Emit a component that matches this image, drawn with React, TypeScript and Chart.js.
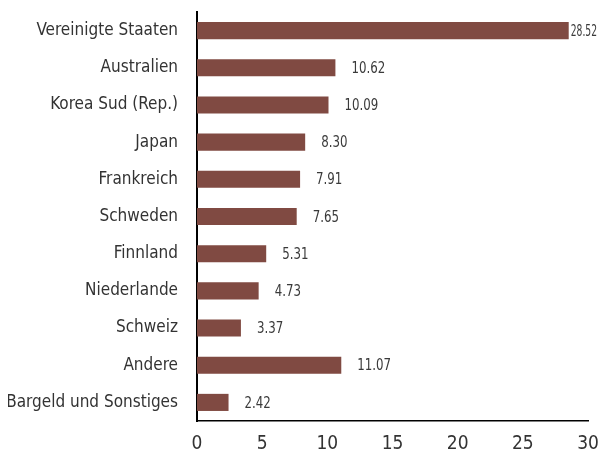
import React, { useEffect, useRef } from "react";
import { Chart, registerables } from "chart.js";

Chart.register(...registerables);

const categories = [
  "Vereinigte Staaten",
  "Australien",
  "Korea Sud (Rep.)",
  "Japan",
  "Frankreich",
  "Schweden",
  "Finnland",
  "Niederlande",
  "Schweiz",
  "Andere",
  "Bargeld und Sonstiges",
];
const values = [28.52, 10.62, 10.09, 8.3, 7.91, 7.65, 5.31, 4.73, 3.37, 11.07, 2.42];
const xTicks = [0, 5, 10, 15, 20, 25, 30];

const FONT = "'DejaVu Sans Condensed', 'Liberation Sans Narrow', sans-serif";

const labelPlugin = {
  id: "barLabels",
  afterDatasetsDraw(chart: any) {
    const ctx = chart.ctx;
    const meta = chart.getDatasetMeta(0);
    ctx.save();
    ctx.font = `16px ${FONT}`;
    ctx.fillStyle = "#3a3a3a";
    ctx.textBaseline = "middle";
    ctx.textAlign = "left";
    const limit = chart.width - 1;
    meta.data.forEach((bar: any, i: number) => {
      const txt = values[i].toFixed(2);
      const w = ctx.measureText(txt).width;
      let sx = 0.82;
      let x = bar.x + 16;
      if (x + w * sx > limit) {
        x = Math.max(bar.x + 2, limit - w * sx);
        if (x + w * sx > limit) sx = (limit - x) / w;
      }
      ctx.save();
      ctx.translate(x, bar.y + 1);
      ctx.scale(sx, 1);
      ctx.fillText(txt, 0, 0);
      ctx.restore();
    });
    ctx.restore();
  },
};

export default function App() {
  const ref = useRef<HTMLCanvasElement>(null);
  useEffect(() => {
    const chart = new Chart(ref.current!, {
      type: "bar",
      data: {
        labels: categories,
        datasets: [
          {
            data: values,
            backgroundColor: "#804a42",
            barPercentage: 0.92,
            categoryPercentage: 0.5,
          },
        ],
      },
      options: {
        indexAxis: "y",
        animation: false,
        responsive: false,
        layout: { padding: { left: 0, right: 10, top: 4, bottom: 0 } },
        plugins: { legend: { display: false }, tooltip: { enabled: false } },
        scales: {
          x: {
            min: 0,
            max: 30,
            afterBuildTicks: (s: any) => {
              s.ticks = xTicks.map((v) => ({ value: v }));
            },
            afterFit: (s: any) => {
              s.height = 28;
              s.paddingLeft = 0;
              s.paddingRight = 0;
            },
            grid: { display: false, drawTicks: false },
            border: { display: true, color: "#000", width: 1.5 },
            ticks: {
              padding: 12,
              color: "#333",
              font: { family: FONT, size: 19 },
            },
          },
          y: {
            afterFit: (s: any) => {
              s.width = 189;
              s.paddingTop = 0;
              s.paddingBottom = 0;
            },
            grid: { display: false, drawTicks: false },
            border: { display: true, color: "#000", width: 2 },
            ticks: {
              padding: 19,
              color: "#333",
              font: { family: FONT, size: 17 },
            },
          },
        },
      },
      plugins: [labelPlugin],
    });
    return () => chart.destroy();
  }, []);
  return (
    <canvas ref={ref} width={590} height={441} style={{ display: "block" }} />
  );
}
